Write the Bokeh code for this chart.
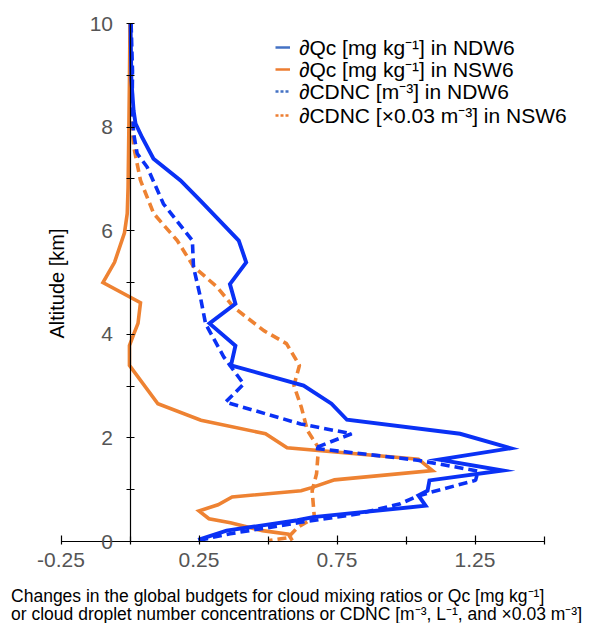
import math
from bokeh.plotting import figure
from bokeh.models import (Range1d, FixedTicker, Legend, LegendItem, Label, ColumnDataSource)
from bokeh.embed import file_html
from bokeh.resources import INLINE

# ---- data ----
qc_ndw6_x = [0.002, 0.005, 0.013, 0.020, 0.044, 0.085, 0.183, 0.255, 0.394, 0.421, 0.362, 0.382,
             0.288, 0.382, 0.366, 0.629, 0.730, 0.786, 1.196, 1.379, 1.120, 1.350, 1.085, 1.078,
             1.045, 1.071, 0.663, 0.607, 0.350, 0.247]
qc_ndw6_y = [10.0, 8.9, 8.32, 8.07, 7.8, 7.39, 6.97, 6.58, 5.81, 5.39, 4.97, 4.59,
             4.21, 3.78, 3.40, 3.01, 2.66, 2.35, 2.08, 1.80, 1.58, 1.37, 1.18, 0.98,
             0.89, 0.69, 0.47, 0.41, 0.21, 0.03]

qc_nsw6_x = [0.0, -0.002, -0.004, -0.007, -0.010, -0.020, -0.056, -0.098, 0.038, 0.029, 0.014,
             -0.002, -0.002, 0.101, 0.257, 0.491, 0.569, 1.045, 1.096, 0.741, 0.658, 0.620,
             0.370, 0.319, 0.250, 0.286, 0.364, 0.480, 0.574, 0.588]
qc_nsw6_y = [10.0, 8.9, 8.0, 6.83, 6.33, 5.96, 5.39, 5.0, 4.61, 4.21, 4.01,
             3.78, 3.40, 2.66, 2.34, 2.08, 1.81, 1.59, 1.37, 1.19, 1.04, 0.98,
             0.86, 0.71, 0.59, 0.44, 0.36, 0.21, 0.14, 0.02]

cdnc_ndw6_x = [0.004, 0.009, 0.008, 0.013, 0.026, 0.062, 0.121, 0.226, 0.230, 0.255, 0.274,
               0.340, 0.412, 0.346, 0.618, 0.803, 0.667, 1.042, 1.261, 1.252, 1.089, 1.038,
               0.980, 0.824, 0.618, 0.363, 0.247]
cdnc_ndw6_y = [10.0, 9.09, 8.51, 7.88, 7.49, 7.23, 6.52, 5.81, 5.30, 4.72, 4.20,
               3.56, 3.04, 2.69, 2.27, 2.08, 1.80, 1.57, 1.36, 1.18, 0.95, 0.87,
               0.73, 0.53, 0.37, 0.15, 0.02]

cdnc_nsw6_x = [0.002, 0.002, 0.005, 0.014, 0.038, 0.086, 0.171, 0.230, 0.316, 0.376, 0.485,
               0.567, 0.614, 0.594, 0.621, 0.643, 0.683, 0.676, 0.660, 0.668, 0.607, 0.582,
               0.581, 0.505]
cdnc_nsw6_y = [10.0, 8.9, 8.13, 7.61, 6.97, 6.33, 5.81, 5.31, 4.91, 4.52, 4.07,
               3.82, 3.40, 3.01, 2.59, 2.14, 1.81, 1.31, 0.98, 0.46, 0.27, 0.13,
               0.08, 0.02]

x_label_ticks = [-0.25, 0.25, 0.75, 1.25]
x_tick_text = ["-0.25", "0.25", "0.75", "1.25"]
x_minor_ticks = [0.0, 0.5, 1.0, 1.5]
x_bounds = (-0.25, 1.5)
y_label_ticks = [0, 2, 4, 6, 8, 10]
y_minor_ticks = [1, 3, 5, 7, 9]
y_bounds = (0, 10)

legend_labels = ["\u2202Qc [mg kg\u207b\u00b9] in NDW6",
                 "\u2202Qc [mg kg\u207b\u00b9] in NSW6",
                 "\u2202CDNC [m\u207b\u00b3] in NDW6",
                 "\u2202CDNC [\u00d70.03 m\u207b\u00b3] in NSW6"]

xlabel_line1 = "Changes in the global budgets for cloud mixing ratios or Qc [mg kg\u207b\u00b9]"
xlabel_line2 = "or cloud droplet number concentrations or CDNC [m\u207b\u00b3, L\u207b\u00b9, and \u00d70.03 m\u207b\u00b3]"
ylabel = "Altitude [km]"

# ---- styling ----
BLUE = "#0a31f5"
ORANGE = "#ee8232"
LEG_BLUE = "#4472c4"
LEG_ORANGE = "#ed7d31"
FONT = "Liberation Sans"

W, H = 590, 623
X0_PX, XSCALE = 129.5, 276.0     # pixel of x=0, pixels per unit
Y0_PX, YSCALE = 541.0, 51.8      # pixel of y=0, pixels per km

p = figure(width=W, height=H, output_backend="svg", toolbar_location=None,
           x_range=Range1d(-X0_PX / XSCALE, (W - X0_PX) / XSCALE),
           y_range=Range1d((Y0_PX - H) / YSCALE, Y0_PX / YSCALE),
           min_border=0, min_border_left=0, min_border_right=0,
           min_border_top=0, min_border_bottom=0)
p.outline_line_color = None
p.xgrid.visible = False
p.ygrid.visible = False
p.background_fill_color = "white"
p.border_fill_color = "white"

p.xaxis.fixed_location = 0
p.yaxis.fixed_location = 0
p.xaxis.bounds = x_bounds
p.yaxis.bounds = y_bounds
p.xaxis.ticker = FixedTicker(ticks=x_label_ticks, minor_ticks=x_minor_ticks)
p.xaxis.major_label_overrides = {t: s for t, s in zip(x_label_ticks, x_tick_text)}
p.yaxis.ticker = FixedTicker(ticks=y_label_ticks, minor_ticks=y_minor_ticks)
for ax in (p.xaxis, p.yaxis):
    ax.axis_line_color = "black"
    ax.axis_line_width = 1.2
    ax.major_tick_line_color = "black"
    ax.minor_tick_line_color = "black"
    ax.major_tick_line_width = 1.2
    ax.minor_tick_line_width = 1.2
    ax.major_label_text_color = "#555555"
    ax.major_label_text_font = FONT
    ax.major_label_text_font_size = "21px"
p.xaxis.major_tick_in = 6
p.xaxis.major_tick_out = 3
p.xaxis.minor_tick_in = 5
p.xaxis.minor_tick_out = 3
p.xaxis.major_label_standoff = 8
p.yaxis.major_tick_in = 4
p.yaxis.major_tick_out = 4
p.yaxis.minor_tick_in = 4
p.yaxis.minor_tick_out = 4
p.yaxis.major_label_standoff = 13

# ---- lines ----
p.line(qc_nsw6_x, qc_nsw6_y, line_color=ORANGE, line_width=3.6, line_join="miter")
p.line(cdnc_nsw6_x, cdnc_nsw6_y, line_color=ORANGE, line_width=3.6, line_dash="9 5")
p.line(cdnc_ndw6_x, cdnc_ndw6_y, line_color=BLUE, line_width=3.6, line_dash="9 5")
p.line(qc_ndw6_x, qc_ndw6_y, line_color=BLUE, line_width=3.9, line_join="miter")

# ---- legend (proxy renderers, off-screen, with the legend colours); one row per legend ----
off = dict(x=[50, 60], y=[100, 100])
legend_colors = [LEG_BLUE, LEG_ORANGE, LEG_BLUE, LEG_ORANGE]
legend_dashes = ["solid", "solid", "3 2", "3 2"]
row_centers = [48.5, 71.5, 93.5, 116.5]   # screen pixels from top
for lab, col, dash, c in zip(legend_labels, legend_colors, legend_dashes, row_centers):
    r = p.line(x="x", y="y", source=ColumnDataSource(off), line_color=col, line_width=2.5, line_dash=dash)
    lg = Legend(items=[LegendItem(label=lab, renderers=[r])],
                location=(275, int(round(H - c - 12))), orientation="vertical",
                glyph_width=15, glyph_height=20, label_height=20, spacing=0, padding=0, margin=0,
                label_standoff=9, label_text_font=FONT, label_text_font_size="21px",
                label_text_color="black", border_line_alpha=0, background_fill_alpha=0)
    p.add_layout(lg, "center")

# ---- axis titles as text ----
p.add_layout(Label(x=-0.431, y=-1.05, text=xlabel_line1, text_font=FONT, text_font_size="17.5px",
                   text_color="black", text_baseline="alphabetic", text_align="left"))
p.add_layout(Label(x=-0.431, y=-1.40, text=xlabel_line2, text_font=FONT, text_font_size="17.5px",
                   text_color="black", text_baseline="alphabetic", text_align="left"))
p.add_layout(Label(x=-0.2663, y=4.98, text=ylabel, angle=math.pi / 2, text_font=FONT,
                   text_font_size="20px", text_color="black", text_baseline="middle", text_align="center"))

open("out.html", "w").write(file_html(p, INLINE))
